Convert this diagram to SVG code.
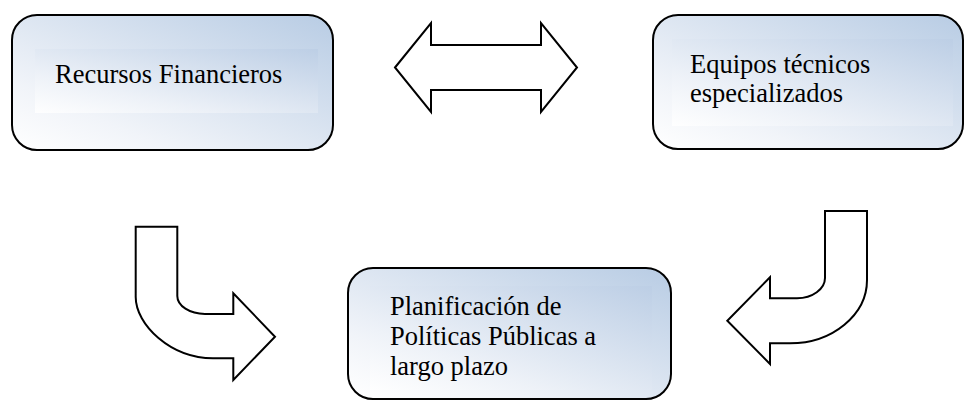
<svg xmlns="http://www.w3.org/2000/svg" width="964" height="401" viewBox="0 0 964 401">
  <defs>
    <linearGradient id="g" x1="0" y1="1" x2="1" y2="0">
      <stop offset="0" stop-color="#ffffff"/>
      <stop offset="0.25" stop-color="#f1f4f9"/>
      <stop offset="1" stop-color="#b8cce4"/>
    </linearGradient>
    <linearGradient id="gi" x1="0" y1="1" x2="1" y2="0">
      <stop offset="0" stop-color="#ffffff"/>
      <stop offset="0.3" stop-color="#eef2f8"/>
      <stop offset="1" stop-color="#bccee5"/>
    </linearGradient>
    <style>
      .box { fill: url(#g); stroke: #000; stroke-width: 2; }
      .inner { fill: url(#gi); stroke: none; opacity: 0.9; }
      .arrow { fill: #fff; stroke: #000; stroke-width: 2; stroke-linejoin: miter; }
      .lbl { font-size: 26.5px; fill: #000; }
    </style>
  </defs>

  <g id="node-recursos">
    <rect class="box" x="12" y="15" width="321" height="135" rx="25" ry="25"/>
    <rect class="inner" x="35" y="49" width="283" height="64"/>
    <text class="lbl" font-family="Liberation Serif, Times New Roman, DejaVu Serif, serif" x="55" y="82.5">Recursos Financieros</text>
  </g>

  <g id="node-equipos">
    <rect class="box" x="653" y="15" width="310" height="134" rx="25" ry="25"/>
    <rect class="inner" x="672" y="39" width="281" height="87"/>
    <text class="lbl" font-family="Liberation Serif, Times New Roman, DejaVu Serif, serif" x="690" y="73.3">Equipos técnicos</text>
    <text class="lbl" font-family="Liberation Serif, Times New Roman, DejaVu Serif, serif" x="690" y="102.3">especializados</text>
  </g>

  <g id="node-planificacion">
    <rect class="box" x="348" y="268" width="323" height="131" rx="25" ry="25"/>
    <rect class="inner" x="370" y="286" width="282" height="104"/>
    <text class="lbl" font-family="Liberation Serif, Times New Roman, DejaVu Serif, serif" x="390" y="315">Planificación de</text>
    <text class="lbl" font-family="Liberation Serif, Times New Roman, DejaVu Serif, serif" x="390" y="345">Políticas Públicas a</text>
    <text class="lbl" font-family="Liberation Serif, Times New Roman, DejaVu Serif, serif" x="390" y="375">largo plazo</text>
  </g>

  <g id="connectors">
    <polygon class="arrow" points="395,67.5 431,23 431,45 541,45 541,23 577,67.5 541,112 541,90 431,90 431,112"/>
    <path class="arrow" d="M135.7,226.7 L177.3,226.7 L177.3,296 C177.3,305.9 189.8,314 205,314 L233.3,314 L233.3,293.3 L275,336.7 L233.3,380 L233.3,358.3 L213,358.3 C170.6,358.3 135.7,324.8 135.7,297 Z"/>
    <path class="arrow" d="M825,211 L867,211 L867,280 C867,314.8 832.4,343.3 790,343.3 L770,343.3 L770,364 L727.3,320.7 L770,277.3 L770,298.3 L797,298.3 C812.4,298.3 825,289 825,278 Z"/>
  </g>
</svg>
